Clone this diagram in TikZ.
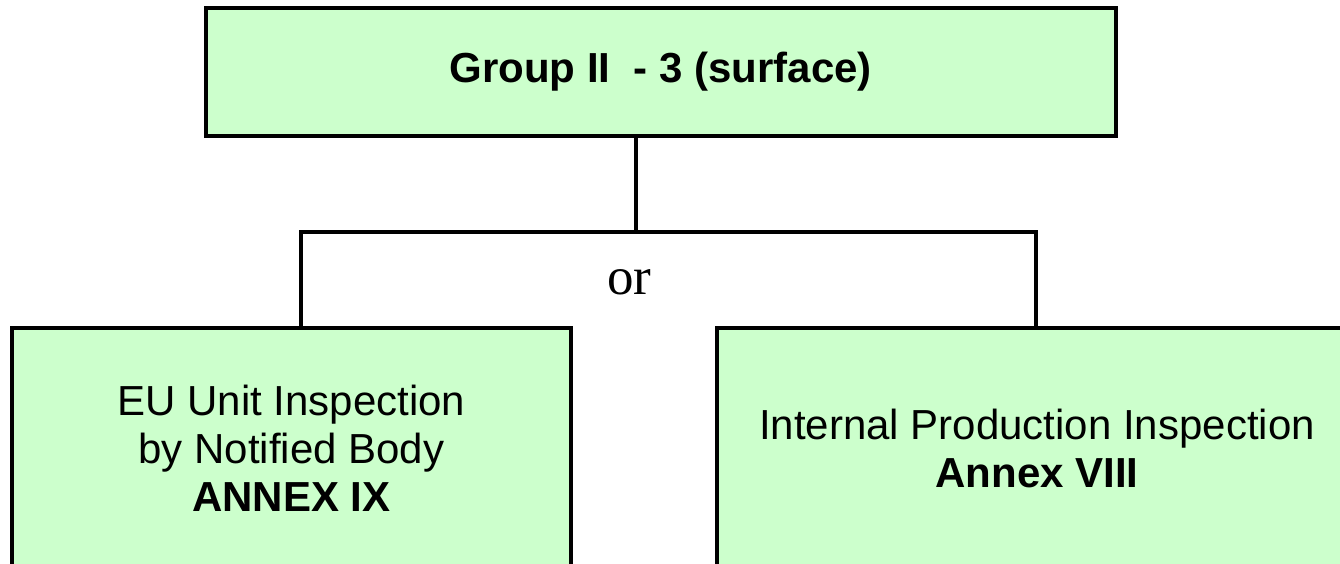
\documentclass[tikz,border=0pt]{standalone}
\usepackage{fontspec}
\setmainfont{Liberation Sans}
\newfontfamily\orfont{Liberation Serif}
\definecolor{boxgreen}{HTML}{CCFFCC}
\tikzset{
  greenbox/.style={draw=black, fill=boxgreen, line width=4pt, inner sep=0pt,
    align=center, font=\fontsize{42}{48}\selectfont},
  connector/.style={draw=black, line width=4pt, line join=miter}
}
\begin{document}
\begin{tikzpicture}[x=1pt, y=-1pt]
\useasboundingbox (0,0) rectangle (1340,564);
\clip (0,0) rectangle (1340,564);
\fill[white] (0,0) rectangle (1340,564);
\node[greenbox, minimum width=909.5pt, minimum height=128pt] (top) at (660.75,72)
  {\bfseries Group II\ \ - 3 (surface)};
\node[greenbox, minimum width=559pt, minimum height=240pt] (left) at (291.5,448)
  {EU Unit Inspection\\by Notified Body\\\bfseries ANNEX IX};
\node[greenbox, minimum width=640pt, minimum height=240pt] (right) at (1037,448)
  {Internal Production Inspection\\\bfseries Annex VIII};
\coordinate (split) at (636,232);
\coordinate (hl) at (301,232);
\coordinate (hr) at (1036,232);
\node[anchor=base, inner sep=0pt, font=\orfont\fontsize{53}{60}\selectfont] (or) at (629.5,294) {or};
\draw[connector] (top.south -| split) -- (split);
\draw[connector] (left.north -| hl) -- (hl) -- (hr) -- (right.north -| hr);
\end{tikzpicture}
\end{document}
